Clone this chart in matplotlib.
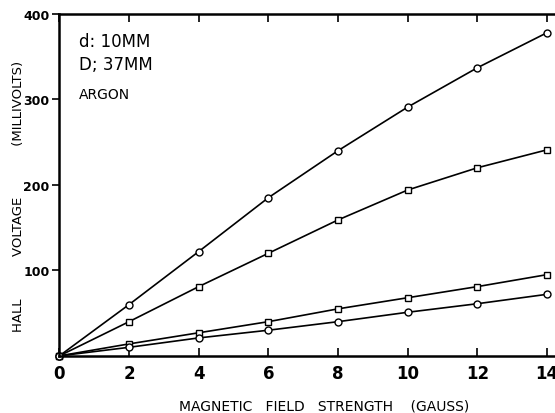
import matplotlib
matplotlib.use("Agg")
import matplotlib.pyplot as plt

# field strength (gauss)
field = [0, 2, 4, 6, 8, 10, 12, 14]

# hall voltage (millivolts)
upper_circles = [0, 60, 122, 185, 240, 291, 337, 378]
upper_squares = [0, 40, 81, 120, 159, 194, 220, 241]
lower_squares = [0, 14, 27, 40, 55, 68, 81, 95]
lower_circles = [0, 10, 21, 30, 40, 51, 61, 72]

x_ticks = [0, 2, 4, 6, 8, 10, 12, 14]
y_ticks = [100, 200, 300, 400]

plt.rcParams["font.family"] = ["DejaVu Sans"]

fig = plt.figure(figsize=(5.55, 4.14), dpi=100)
ax = fig.add_axes([0.107, 0.138, 0.893, 0.826])

for ys, m in [(upper_circles, "o"), (upper_squares, "s"),
              (lower_squares, "s"), (lower_circles, "o")]:
    ax.plot(field, ys, color="black", lw=1.2, marker=m, ms=5,
            mfc="white", mec="black", mew=1.0, clip_on=False)

ax.set_xlim(0, 14.23)
ax.set_ylim(0, 400)
ax.set_xticks(x_ticks)
ax.set_yticks(y_ticks)
ax.tick_params(axis="x", direction="in", top=True, length=6, width=1.2,
               labelsize=12, pad=6)
ax.tick_params(axis="y", direction="out", length=5, width=1.2, labelsize=9, pad=2)
for lab in ax.get_xticklabels() + ax.get_yticklabels():
    lab.set_fontweight("bold")
for s in ["left", "bottom", "top"]:
    ax.spines[s].set_linewidth(1.8)
ax.spines["right"].set_visible(False)

ax.set_xlabel("MAGNETIC   FIELD   STRENGTH    (GAUSS)", fontsize=10)
ax.set_ylabel("HALL" + " " * 10 + "VOLTAGE" + " " * 12 + "(MILLIVOLTS)",
              fontsize=9.5)
ax.xaxis.set_label_coords(0.535, -0.126)
ax.yaxis.set_label_coords(-0.069, 0.47)

ax.text(0.04, 0.905, "d: 10MM", transform=ax.transAxes, fontsize=12)
ax.text(0.04, 0.84, "D; 37MM", transform=ax.transAxes, fontsize=12)
ax.text(0.04, 0.755, "ARGON", transform=ax.transAxes, fontsize=10)

fig.savefig("out.png", dpi=100)
